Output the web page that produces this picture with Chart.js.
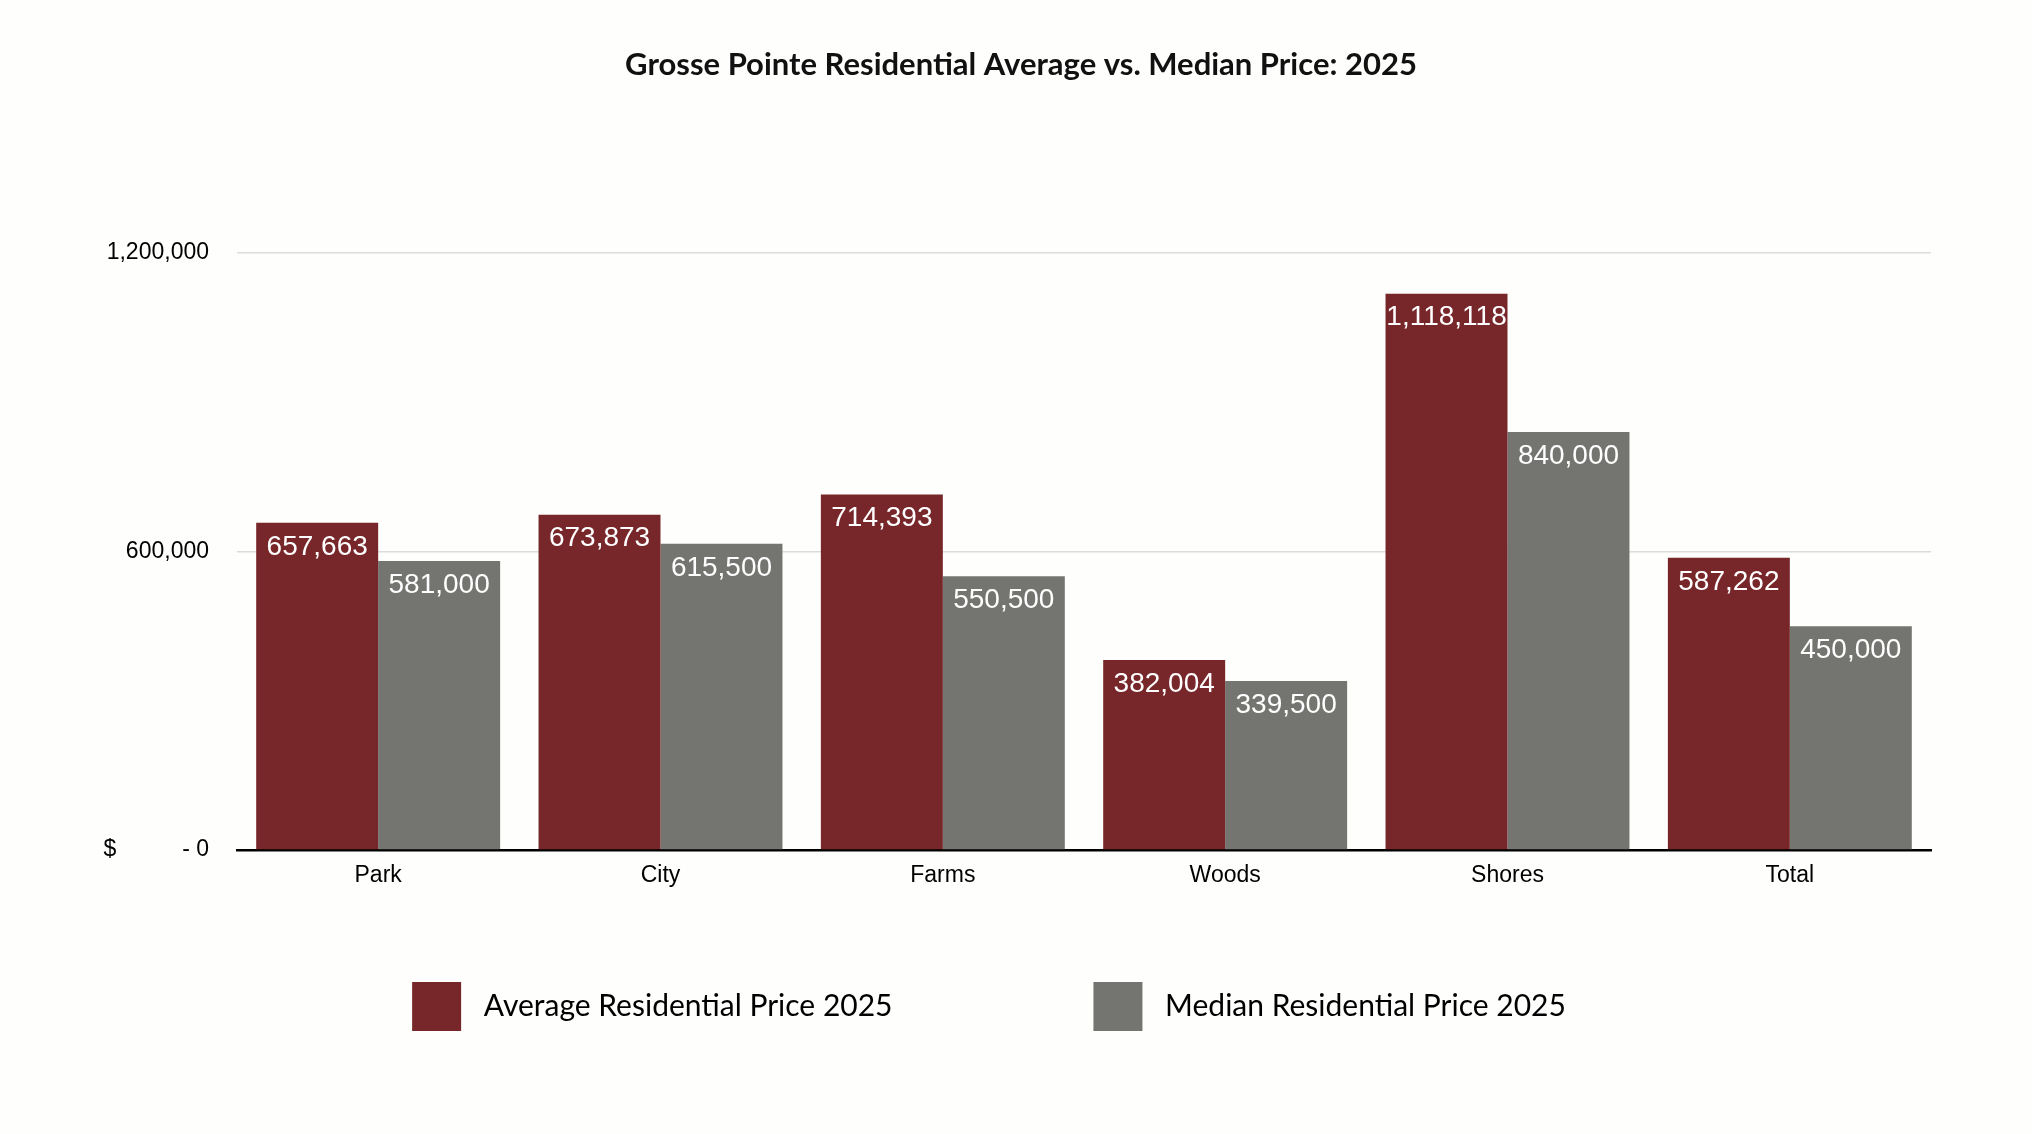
<!DOCTYPE html>
<html>
<head>
<meta charset="utf-8">
<title>Grosse Pointe Residential Average vs. Median Price: 2025</title>
<script src="https://cdn.jsdelivr.net/npm/chart.js@4.4.1/dist/chart.umd.min.js"></script>
<style>
  html, body { margin: 0; padding: 0; background: #fefefd; }
  #wrap { width: 2032px; height: 1134px; position: relative; }
</style>
</head>
<body>
<div id="wrap"><canvas id="priceChart"></canvas></div>
<script>
// Chart data
const areas = ['Park', 'City', 'Farms', 'Woods', 'Shores', 'Total'];
const averagePrice = [657663, 673873, 714393, 382004, 1118118, 587262];
const medianPrice = [581000, 615500, 550500, 339500, 840000, 450000];
const yTicks = [0, 600000, 1200000];

const chartTitle = 'Grosse Pointe Residential Average vs. Median Price: 2025';
const RED = '#772729';
const GREY = '#747570';

const legendFont = { family: 'Lato, "Open Sans", sans-serif', size: 30 };
const LEGEND_BOX = 49;
const LEGEND_PAD = 32;
const LEGEND_STEP = 682; // distance from first swatch to second swatch

// white value labels inside the top of each bar
const barLabels = {
    id: 'barLabels',
    afterDatasetsDraw(chart) {
        const ctx = chart.ctx;
        ctx.save();
        ctx.font = '28px "Liberation Sans", Arial, sans-serif';
        ctx.fillStyle = '#ffffff';
        ctx.textAlign = 'center';
        ctx.textBaseline = 'middle';
        chart.data.datasets.forEach((ds, i) => {
            chart.getDatasetMeta(i).data.forEach((bar, j) => {
                ctx.fillText(ds.data[j].toLocaleString('en-US'), bar.x, bar.y + 24);
            });
        });
        ctx.restore();
    }
};

// title is centred on the whole canvas, not on the legend area, so draw it here
const pageTitle = {
    id: 'pageTitle',
    afterDraw(chart) {
        const ctx = chart.ctx;
        ctx.save();
        ctx.font = 'bold 31px Lato, "Open Sans", sans-serif';
        ctx.fillStyle = '#111';
        ctx.textAlign = 'center';
        ctx.textBaseline = 'middle';
        ctx.fillText(chartTitle, chart.width / 2 + 5, 65);
        ctx.restore();
    }
};

// the lone "$" next to the zero tick (accounting format)
const dollarSign = {
    id: 'dollarSign',
    afterDraw(chart) {
        const ctx = chart.ctx;
        const y = chart.scales.y.getPixelForValue(0);
        ctx.save();
        ctx.font = '23px "Liberation Sans", Arial, sans-serif';
        ctx.fillStyle = '#000';
        ctx.textAlign = 'center';
        ctx.textBaseline = 'middle';
        ctx.fillText('$', 110, y);
        ctx.restore();
    }
};

// legend padding is shared by both directions, so widen the first item with trailing spaces
const measureCtx = document.createElement('canvas').getContext('2d');
measureCtx.font = legendFont.size + 'px ' + legendFont.family;
function padLegendText(text) {
    const target = LEGEND_STEP - LEGEND_PAD - LEGEND_BOX - legendFont.size / 2;
    let out = text;
    while (measureCtx.measureText(out + ' ').width <= target) out += ' ';
    return out;
}

new Chart(document.getElementById('priceChart'), {
    type: 'bar',
    data: {
        labels: areas,
        datasets: [
            {
                label: 'Average Residential Price 2025',
                data: averagePrice,
                backgroundColor: RED,
                categoryPercentage: 0.864,
                barPercentage: 1.0
            },
            {
                label: 'Median Residential Price 2025',
                data: medianPrice,
                backgroundColor: GREY,
                categoryPercentage: 0.864,
                barPercentage: 1.0
            }
        ]
    },
    options: {
        responsive: true,
        maintainAspectRatio: false,
        animation: false,
        layout: {
            padding: { left: 47, right: 101, top: 253, bottom: 93 }
        },
        plugins: {
            title: { display: false },
            legend: {
                position: 'bottom',
                labels: {
                    boxWidth: LEGEND_BOX,
                    boxHeight: LEGEND_BOX,
                    padding: LEGEND_PAD,
                    color: '#1a1a1a',
                    font: legendFont,
                    generateLabels(chart) {
                        const n = chart.data.datasets.length;
                        return chart.data.datasets.map((ds, i) => ({
                            text: i < n - 1 ? padLegendText(' ' + ds.label) : ' ' + ds.label,
                            fillStyle: ds.backgroundColor,
                            strokeStyle: ds.backgroundColor,
                            lineWidth: 0,
                            datasetIndex: i
                        }));
                    }
                }
            },
            tooltip: { enabled: false }
        },
        scales: {
            x: {
                grid: { display: false, drawTicks: false },
                border: { display: true, color: '#000', width: 2.5 },
                ticks: {
                    color: '#000',
                    padding: 12,
                    font: { family: '"Liberation Sans", Arial, sans-serif', size: 23 }
                },
                afterFit(scale) { scale.height = 100; }
            },
            y: {
                min: 0,
                max: 1200000,
                afterBuildTicks(scale) {
                    scale.ticks = yTicks.map(v => ({ value: v }));
                },
                grid: {
                    drawTicks: false,
                    color: '#dcdcdc',
                    lineWidth: 1.5
                },
                border: { display: false },
                ticks: {
                    color: '#000',
                    padding: 28,
                    font: { family: '"Liberation Sans", Arial, sans-serif', size: 23 },
                    callback(value) {
                        return value === 0 ? '- 0' : value.toLocaleString('en-US');
                    }
                },
                afterFit(scale) { scale.width = 190; }
            }
        }
    },
    plugins: [barLabels, pageTitle, dollarSign]
});
</script>
</body>
</html>
